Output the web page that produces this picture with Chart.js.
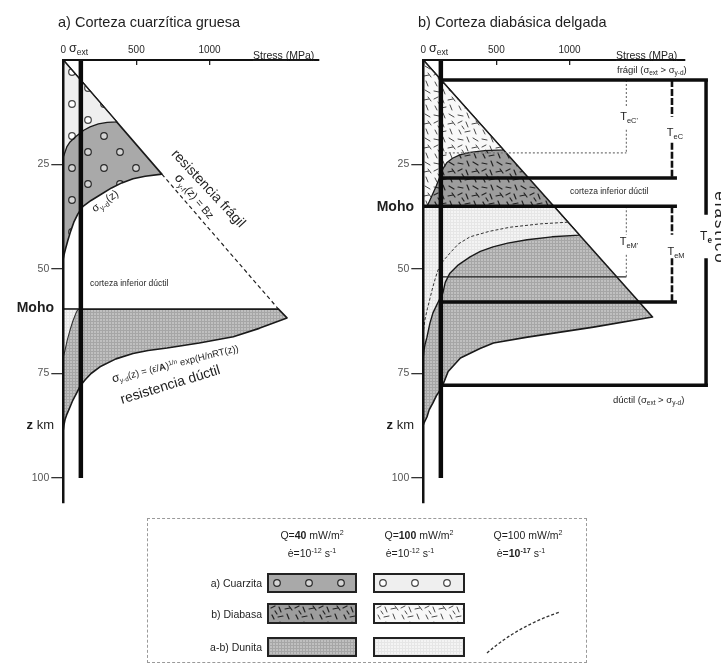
<!DOCTYPE html>
<html lang="es">
<head>
<meta charset="utf-8">
<title>Perfiles de resistencia litosférica</title>
<script src="https://cdn.jsdelivr.net/npm/chart.js@4.4.1/dist/chart.umd.min.js"></script>
<style>
html,body{margin:0;padding:0;background:#fff;}
#wrap{position:relative;width:721px;height:663px;overflow:hidden;font-family:"Liberation Sans",Arial,Helvetica,sans-serif;color:#1e1e1e;}
#wrap canvas{position:absolute;left:0;top:0;width:721px;height:663px;}
.t{position:absolute;white-space:nowrap;line-height:1;}
.sub{font-size:0.68em;position:relative;top:0.35em;}
.sup{font-size:0.68em;position:relative;top:-0.5em;}
.sw{position:absolute;border:2px solid #222;box-sizing:border-box;background-repeat:repeat;}
</style>
</head>
<body>
<div id="wrap">
<canvas id="ca" width="721" height="663"></canvas>
<canvas id="cb" width="721" height="663"></canvas>

<!-- panel a texts -->
<div class="t" style="left:58px;top:15px;font-size:14.5px">a) Corteza cuarzítica gruesa</div>
<div class="t" style="left:69px;top:42px;font-size:12.5px">σ<span class="sub" style="font-size:8.5px">ext</span></div>
<div class="t" style="left:253px;top:50px;font-size:10.5px;text-decoration:underline">Stress (MPa)</div>
<div class="t" style="right:667px;top:300px;font-size:14px;font-weight:bold">Moho</div>
<div class="t" style="right:667px;top:418px;font-size:13px"><b>z</b> km</div>
<div class="t" style="left:105px;top:201px;font-size:11px;transform:translate(-50%,-50%) rotate(-35deg)">σ<span class="sub">y-d</span>(z)</div>
<div class="t" style="left:209px;top:188px;font-size:14px;transform:translate(-50%,-50%) rotate(47deg)">resistencia frágil</div>
<div class="t" style="left:195px;top:196px;font-size:11px;transform:translate(-50%,-50%) rotate(50deg)"><span style="font-size:13px">σ</span><span class="sub">y-f</span>(z) = Bz</div>
<div class="t" style="left:90px;top:279px;font-size:8.5px">corteza inferior dúctil</div>
<div class="t" style="left:175px;top:363px;font-size:9.5px;transform:translate(-50%,-50%) rotate(-14deg)"><span style="font-size:12px">σ</span><span class="sub">y-d</span>(z) = (ε̇/<b>A</b>)<span class="sup">1/n</span> exp(H/nRT(z))</div>
<div class="t" style="left:170px;top:384px;font-size:14px;transform:translate(-50%,-50%) rotate(-17deg)">resistencia dúctil</div>

<!-- panel b texts -->
<div class="t" style="left:418px;top:15px;font-size:14.5px">b) Corteza diabásica delgada</div>
<div class="t" style="left:429px;top:42px;font-size:12.5px">σ<span class="sub" style="font-size:8.5px">ext</span></div>
<div class="t" style="left:616px;top:50px;font-size:10.5px;text-decoration:underline">Stress (MPa)</div>
<div class="t" style="right:307px;top:199px;font-size:14px;font-weight:bold">Moho</div>
<div class="t" style="right:307px;top:418px;font-size:13px"><b>z</b> km</div>
<div class="t" style="left:617px;top:65px;font-size:9.5px">frágil (σ<span class="sub">ext</span> &gt; σ<span class="sub">y-d</span>)</div>
<div class="t" style="left:613px;top:395px;font-size:9.5px">dúctil (σ<span class="sub">ext</span> &gt; σ<span class="sub">y-d</span>)</div>
<div class="t" style="left:570px;top:187px;font-size:8.5px">corteza inferior dúctil</div>
<div class="t" style="left:629px;top:116px;font-size:11px;transform:translate(-50%,-50%)">T<span class="sub">eC'</span></div>
<div class="t" style="left:675px;top:132px;font-size:11px;transform:translate(-50%,-50%)">T<span class="sub">eC</span></div>
<div class="t" style="left:629px;top:241px;font-size:11px;transform:translate(-50%,-50%)">T<span class="sub">eM'</span></div>
<div class="t" style="left:676px;top:251px;font-size:11px;transform:translate(-50%,-50%)">T<span class="sub">eM</span></div>
<div class="t" style="left:706px;top:236px;font-size:12px;transform:translate(-50%,-50%)">T<span class="sub"><b>e</b></span></div>
<div class="t" style="left:720px;top:228px;font-size:17px;letter-spacing:2px;transform:translate(-50%,-50%) rotate(90deg)">elástico</div>

<!-- legend -->
<div style="position:absolute;left:147px;top:518px;width:440px;height:145px;border:1px dashed #9a9a9a;box-sizing:border-box"></div>
<div class="t" style="left:312px;top:530px;font-size:10.5px;transform:translateX(-50%)">Q=<b>40</b> mW/m<span class="sup">2</span></div>
<div class="t" style="left:312px;top:548px;font-size:10.5px;transform:translateX(-50%)">ė=10<span class="sup">-12</span> s<span class="sup">-1</span></div>
<div class="t" style="left:419px;top:530px;font-size:10.5px;transform:translateX(-50%)">Q=<b>100</b> mW/m<span class="sup">2</span></div>
<div class="t" style="left:410px;top:548px;font-size:10.5px;transform:translateX(-50%)">ė=10<span class="sup">-12</span> s<span class="sup">-1</span></div>
<div class="t" style="left:528px;top:530px;font-size:10.5px;transform:translateX(-50%)">Q=100 mW/m<span class="sup">2</span></div>
<div class="t" style="left:521px;top:548px;font-size:10.5px;transform:translateX(-50%)">ė=<b>10<span class="sup">-17</span></b> s<span class="sup">-1</span></div>
<div class="t" style="right:459px;top:578px;font-size:10.5px">a) Cuarzita</div>
<div class="t" style="right:459px;top:609px;font-size:10.5px">b) Diabasa</div>
<div class="t" style="right:459px;top:642px;font-size:10.5px">a-b) Dunita</div>
<div class="sw" id="sw1" style="left:267px;top:573px;width:90px;height:20px"></div>
<div class="sw" id="sw2" style="left:373px;top:573px;width:92px;height:20px"></div>
<div class="sw" id="sw3" style="left:267px;top:603px;width:90px;height:21px"></div>
<div class="sw" id="sw4" style="left:373px;top:603px;width:92px;height:21px"></div>
<div class="sw" id="sw5" style="left:267px;top:637px;width:90px;height:20px"></div>
<div class="sw" id="sw6" style="left:373px;top:637px;width:92px;height:20px"></div>
<svg style="position:absolute;left:480px;top:600px" width="90" height="60"><path d="M7 53 Q 38 26 80 12" fill="none" stroke="#333" stroke-width="1.3" stroke-dasharray="3 2"/></svg>
</div>

<script>
// ---------------- DATA (stress in MPa, depth z in km) ----------------
const X_TICKS = [0, 500, 1000];
const Y_TICKS = [25, 50, 75, 100];
const SIGMA_EXT = 120;
const DEPTH_MAX = 106;
const X_MAX_A = 1745;
const X_MAX_B = 1787;

// Panel a: thick quartzite crust
const mohoA = 59.6;
const quartzQ40A = [[0,0],[674,27.3],[560,27.8],[477,28.4],[400,29.4],[330,30.6],[251,32.3],[190,33.6],[135,35],[100,36.8],[72,38.8],[50,41],[30,43.3],[15,45.2],[5,46.6],[0,47.5]];
const quartzQ100A = [[0,0],[366,14.8],[300,14.9],[240,15.3],[183,16],[140,16.8],[114,17.5],[80,18.5],[46,19.6],[25,20.7],[12,22],[0,23.2]];
const brittleDashA = [[674,27.3],[1472,59.6]];
const duniteQ40A = [[0,59.6],[1472,59.6],[1530,61.7],[1340,64.2],[1163,66.2],[930,67.7],[710,68.9],[580,69.5],[477,70.2],[360,71.5],[251,73.4],[190,75],[150,76.5],[115,78],[91,79.7],[65,81.4],[46,83],[25,84.7],[12,86],[4,87.4],[0,88.5]];
const duniteQ100A = [[0,59.6],[100,59.6],[87,60.5],[65,62.5],[46,64.6],[27,67],[12,69.4],[0,71]];

// Panel b: thin diabase crust
const mohoB = 35;
const diabaseQ40B = [[0,0],[893,35],[0,35]];
const diabaseQ100B = [[0,0],[548,21.5],[420,21.7],[320,22.1],[250,22.7],[200,23.5],[160,24.6],[135,26],[115,27.8],[90,30],[65,32],[42,33.8],[25,35],[0,35]];
const duniteQ40B = [[0,35],[893,35],[1568,61.5],[1164,63.9],[712,66.3],[480,67.7],[388,69],[254,71.3],[170,74.5],[126,78.4],[90,80.3],[66,82],[40,83.7],[25,85.4],[5,86.8],[0,87.3]];
const duniteQ100B = [[0,35],[893,35],[1068,41.9],[880,42.3],[710,43],[577,43.8],[477,44.7],[390,45.8],[320,47.1],[240,49],[182,51],[150,53.2],[134,55.7],[100,58],[66,60.5],[45,63],[25,66.3],[12,68],[5,69.4],[0,71]];
const duniteE17B = [[989,38.8],[800,39.2],[594,40],[450,41],[320,42.3],[240,44],[182,46.2],[150,47.5],[127,48.5],[100,50.3],[80,52.5],[60,55],[46,57],[28,59.5],[12,62],[4,64],[0,65]];

// Panel b elastic-thickness construction lines
const thickLinesB = [
  [[SIGMA_EXT,4.8],[1947,4.8]],
  [[SIGMA_EXT,28.2],[1735,28.2]],
  [[0,35],[1735,35]],
  [[SIGMA_EXT,57.9],[1735,57.9]],
  [[SIGMA_EXT,77.8],[1947,77.8]],
  [[1934,4.8],[1934,37]],
  [[1934,47.4],[1934,77.8]]
];
const dashedThickB = [
  [[1701,4.8],[1701,13.6]], [[1701,19.8],[1701,28.2]],
  [[1701,35],[1701,41.8]], [[1701,47.4],[1701,57.9]]
];
const dottedB = [
  [[1389,4.8],[1389,11.4]], [[1389,16.7],[1389,22.2]], [[SIGMA_EXT,22.2],[1389,22.2]],
  [[1389,35],[1389,41.8]], [[1389,46.6],[1389,51.9]]
];
const thinLineB = [[SIGMA_EXT,51.9],[1389,51.9]];
const sigmaExtLine = [[SIGMA_EXT,0],[SIGMA_EXT,100]];

// ---------------- patterns ----------------
function tile(w,h,bg,draw){
  const c=document.createElement('canvas'); c.width=w; c.height=h;
  const g=c.getContext('2d'); g.fillStyle=bg; g.fillRect(0,0,w,h); draw(g); return c;
}
function circles(bg, inner, ring){
  return tile(32,32,bg,g=>{
    [[8,8],[24,24]].forEach(([x,y])=>{g.beginPath();g.arc(x,y,3.3,0,Math.PI*2);g.fillStyle=inner;g.fill();g.lineWidth=1.2;g.strokeStyle=ring;g.stroke();});
  });
}
const STROKES=[[2,3,6,1],[10,2,12,7],[16,4,21,3],[3,10,5,14],[9,12,14,11],[18,9,20,14],[2,19,7,20],[11,17,13,22],[17,18,22,21],[6,6,8,9],[20,1,23,5]];
function dashes(bg, col, lw){
  return tile(24,24,bg,g=>{g.strokeStyle=col;g.lineWidth=lw;g.lineCap='round';
    STROKES.forEach(s=>{g.beginPath();g.moveTo(s[0],s[1]);g.lineTo(s[2],s[3]);g.stroke();});});
}
function grid(bg,col){
  return tile(3,3,bg,g=>{g.fillStyle=col;g.fillRect(0,0,3,1);g.fillRect(0,0,1,3);});
}
const tiles = {
  qDark: circles('#a9a9a9','#d4d4d4','#2a2a2a'),
  qLight: circles('#efefef','#ffffff','#444'),
  dDark: dashes('#9d9d9d','#222',1.2),
  dLight: dashes('#f8f8f8','#4a4a4a',1.0),
  uDark: grid('#c0c0c0','#a6a6a6'),
  uLight: grid('#f4f4f4','#e6e6e6')
};
const ctxTmp = document.createElement('canvas').getContext('2d');
const pat = {};
Object.keys(tiles).forEach(k=>{ pat[k]=ctxTmp.createPattern(tiles[k],'repeat'); });
[['sw1','qDark'],['sw2','qLight'],['sw3','dDark'],['sw4','dLight'],['sw5','uDark'],['sw6','uLight']].forEach(([id,k])=>{
  document.getElementById(id).style.backgroundImage='url('+tiles[k].toDataURL()+')';
});

// ---------------- chart helpers ----------------
Chart.defaults.font.family = '"Liberation Sans", Arial, Helvetica, sans-serif';
function pts(a){ return a.map(p=>({x:p[0],y:p[1]})); }
function area(a,bg,bc,bw){ return {data:pts(a),fill:'origin',backgroundColor:bg,borderColor:bc,borderWidth:bw,pointRadius:0,tension:0,borderJoinStyle:'round'}; }
function line(a,bc,bw,dash,noclip){ const d={data:pts(a),fill:false,borderColor:bc,borderWidth:bw,borderDash:dash||[],pointRadius:0,tension:0,borderCapStyle:'butt'}; if(noclip) d.clip=false; return d; }

function makeChart(id, datasets, padLeft, xMax){
  datasets.forEach((d,i)=>{ d.order=-i; });
  const right = 0.1462*xMax;
  return new Chart(document.getElementById(id), {
    type:'line',
    data:{datasets},
    options:{
      responsive:false, animation:false, indexAxis:'y', events:[],
      layout:{padding:{left:padLeft, right:721-(padLeft+43.3+right), top:0, bottom:663-503.1}},
      plugins:{legend:{display:false}, tooltip:{enabled:false}},
      scales:{
        x:{type:'linear', position:'top', min:0, max:xMax,
          afterFit(s){ s.height=60; },
          afterBuildTicks(s){ s.ticks=X_TICKS.map(v=>({value:v})); },
          ticks:{font:{size:10}, color:'#2a2a2a', padding:9, maxRotation:0, autoSkip:false, callback:v=>String(v)},
          grid:{display:true, drawOnChartArea:false, drawTicks:true, tickLength:-5, color:'#222', lineWidth:1.3, z:1},
          border:{display:true, color:'#111', width:2, z:1}},
        y:{type:'linear', position:'left', reverse:true, min:0, max:DEPTH_MAX,
          afterFit(s){ s.width=43.3; },
          afterBuildTicks(s){ s.ticks=Y_TICKS.map(v=>({value:v})); },
          ticks:{font:{size:10.5}, color:'#555', padding:2, autoSkip:false, callback:v=>String(v)},
          grid:{display:true, drawOnChartArea:false, tickLength:12, color:'#333', lineWidth:1.3, z:1},
          border:{display:true, color:'#111', width:2.5, z:1}}
      }
    }
  });
}

// ---------------- panel a ----------------
makeChart('ca', [
  area(quartzQ40A, pat.qDark, '#1a1a1a', 1.6),
  area(quartzQ100A, pat.qLight, '#1a1a1a', 1.3),
  line(brittleDashA, '#222', 1.2, [4,3]),
  area(duniteQ40A, pat.uDark, '#1a1a1a', 1.6),
  area(duniteQ100A, pat.uLight, '#333', 1.1),
  line(sigmaExtLine, '#0a0a0a', 4.5)
], 20, X_MAX_A);

// ---------------- panel b ----------------
const dsB = [
  area(diabaseQ40B, pat.dDark, '#1a1a1a', 1.6),
  area(diabaseQ100B, pat.dLight, '#1a1a1a', 1.3),
  area(duniteQ40B, pat.uDark, '#1a1a1a', 1.6),
  area(duniteQ100B, pat.uLight, '#1a1a1a', 1.4),
  line(duniteE17B, '#333', 1, [3,2]),
  line(thinLineB, '#222', 1.2),
];
dottedB.forEach(s=>dsB.push(line(s,'#777',1.2,[2,2])));
dashedThickB.forEach(s=>dsB.push(line(s,'#111',2.6,[7,2])));
thickLinesB.forEach(s=>dsB.push(line(s,'#0d0d0d',3.5,[],true)));
dsB.push(line(sigmaExtLine,'#0a0a0a',4.5));
makeChart('cb', dsB, 380, X_MAX_B);
</script>
</body>
</html>
